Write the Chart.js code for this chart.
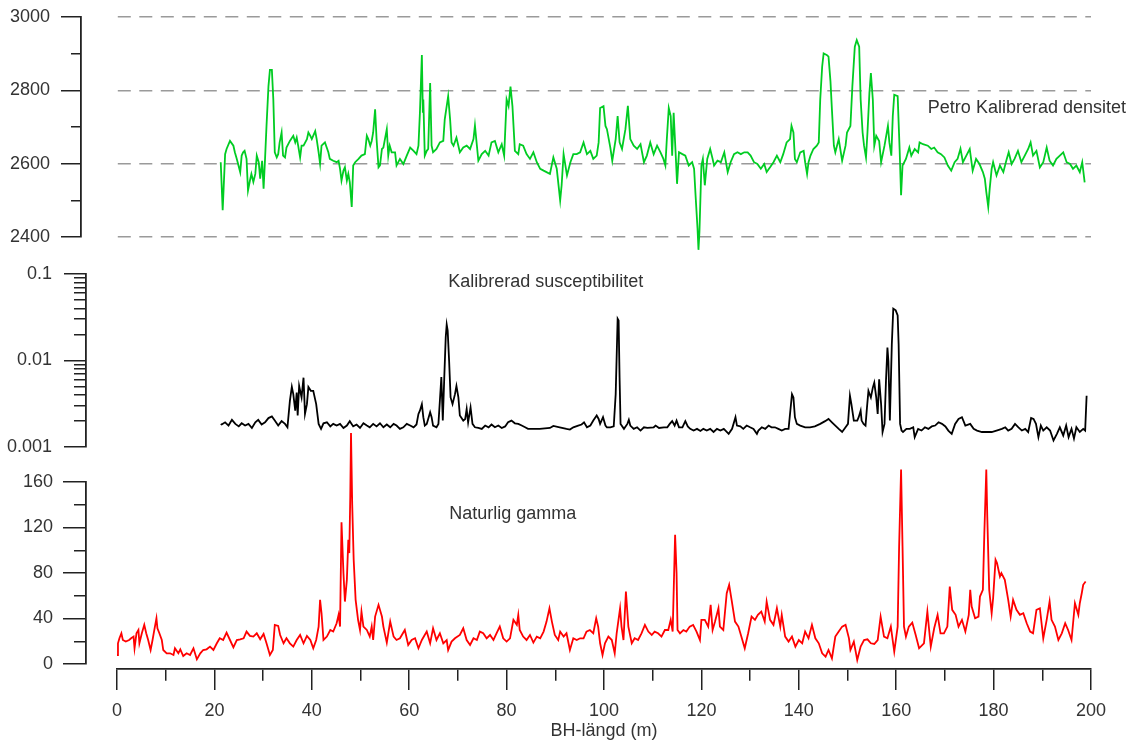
<!DOCTYPE html>
<html>
<head>
<meta charset="utf-8">
<title>BH-längd</title>
<script src="https://cdn.jsdelivr.net/npm/chart.js@4.4.1/dist/chart.umd.min.js"></script>
<style>
body { margin: 0; background: #fff; }
#wrap { position: relative; width: 1133px; height: 747px; overflow: hidden; }
#wrap canvas { position: absolute; left: 0; }
</style>
</head>
<body>
<div id="wrap">
  <canvas id="densChart" width="1133" height="264" style="top:-5px"></canvas>
  <canvas id="suscChart" width="1133" height="219" style="top:251px"></canvas>
  <canvas id="gammaChart" width="1133" height="327" style="top:420px"></canvas>
</div>
<script>
// tick positions
const xTicks = [0,10,20,30,40,50,60,70,80,90,100,110,120,130,140,150,160,170,180,190,200];
const densityTicks = [2400,2500,2600,2700,2800,2900,3000];
const suscTicks = [0.001,0.002,0.003,0.004,0.005,0.006,0.007,0.008,0.009,0.01,0.02,0.03,0.04,0.05,0.06,0.07,0.08,0.09,0.1];
const suscLabels = [0.001,0.01,0.1];
const gammaTicks = [0,20,40,60,80,100,120,140,160];

// Petro Kalibrerad densitet
const densityDepth = [21.3,21.7,22.2,22.5,23.2,23.9,24.2,24.6,25.3,25.6,
25.9,26.2,26.6,26.9,27.3,27.6,28.0,28.4,28.7,29.1,
29.4,29.8,30.1,30.4,30.7,31.1,31.4,31.8,32.1,32.4,
32.8,33.1,33.4,33.8,34.1,34.5,34.8,35.5,36.2,36.6,
36.9,37.2,37.6,37.9,38.3,39.0,39.3,39.7,40.0,40.7,
41.0,41.4,41.7,42.0,42.7,43.4,43.7,44.4,45.1,45.5,
45.8,46.1,46.5,46.8,47.2,47.5,47.8,48.2,48.5,48.9,
49.6,50.2,50.9,51.3,51.6,52.0,52.3,52.6,53.0,53.3,
53.7,54.0,54.4,54.7,55.4,55.7,56.0,56.4,57.1,57.4,
58.1,58.8,59.5,60.2,60.9,61.5,61.9,62.2,62.6,62.8,
62.9,63.2,63.6,63.9,64.3,64.6,64.9,65.6,66.3,67.0,
67.3,68.0,68.4,68.7,69.1,69.7,70.4,71.1,71.8,72.5,
73.2,73.5,73.9,74.2,74.9,75.6,76.3,76.9,77.6,78.3,
79.0,79.5,80.0,80.4,80.8,81.2,81.7,82.4,82.7,83.4,
84.1,84.8,85.5,86.2,86.9,87.6,88.2,88.9,89.6,90.3,
91.0,91.3,91.7,92.4,93.1,93.7,94.4,95.1,95.8,96.5,
97.2,97.8,98.5,98.9,99.2,99.9,100.3,100.6,101.3,101.7,
102.4,102.8,103.2,103.7,104.4,104.9,105.4,106.1,106.8,107.5,
108.2,108.8,109.5,110.2,110.9,111.6,112.2,112.6,112.9,113.3,
113.7,114.0,114.3,114.7,115.0,115.4,116.1,116.7,117.4,118.1,
118.5,118.8,119.2,119.4,119.6,120.0,120.3,120.7,121.2,121.8,
122.3,122.6,123.3,124.0,124.7,125.4,126.0,126.7,127.4,128.1,
128.8,129.5,130.1,130.8,131.5,132.2,132.9,133.4,134.1,134.8,
135.5,136.2,136.8,137.5,138.2,138.5,138.9,139.2,139.6,140.3,
141.0,141.3,141.7,142.0,142.4,143.0,143.7,144.1,144.4,144.8,
145.1,145.8,146.1,146.5,146.8,147.2,147.5,148.2,148.9,149.6,
149.9,150.6,151.0,151.5,151.9,152.4,152.7,153.1,153.4,153.8,
154.1,154.5,154.8,155.2,155.5,155.9,156.5,156.9,157.6,158.3,
158.6,159.0,159.3,159.6,160.3,160.7,161.0,161.3,162.0,162.7,
163.1,163.8,164.5,164.8,165.5,166.5,167.2,167.8,168.5,169.2,
169.9,170.6,171.3,172.0,172.6,173.2,173.7,174.4,175.1,175.7,
176.4,177.1,177.8,178.2,178.5,178.9,179.2,179.6,179.9,180.6,
181.3,182.0,182.6,183.1,183.7,184.3,185.0,185.7,186.4,187.1,
187.6,188.1,188.8,189.5,190.2,190.9,191.5,192.2,192.9,193.6,
194.3,195.0,195.7,196.3,197.0,197.7,198.2,198.7];
const densityValue = [2604,2473,2626,2640,2662,2649,2631,2613,2577,2622,
2631,2635,2613,2527,2554,2572,2550,2572,2622,2604,
2559,2608,2532,2613,2703,2811,2856,2856,2775,2631,
2617,2626,2658,2685,2622,2617,2644,2662,2676,2658,
2671,2649,2617,2649,2649,2667,2685,2676,2667,2689,
2667,2631,2600,2649,2658,2631,2613,2608,2604,2608,
2586,2554,2581,2590,2554,2572,2550,2482,2595,2604,
2613,2622,2626,2676,2667,2649,2662,2685,2748,2667,
2590,2595,2640,2644,2694,2622,2649,2631,2631,2595,
2613,2599,2622,2644,2635,2626,2649,2739,2896,2739,
2775,2622,2635,2640,2820,2649,2631,2640,2658,2662,
2721,2784,2721,2658,2649,2671,2631,2644,2649,2640,
2667,2704,2649,2608,2626,2635,2622,2658,2662,2631,
2653,2622,2775,2757,2810,2757,2635,2626,2653,2649,
2626,2613,2631,2604,2586,2581,2577,2572,2617,2586,
2500,2541,2626,2568,2604,2626,2626,2631,2658,2626,
2635,2613,2622,2658,2752,2757,2703,2694,2644,2608,
2667,2730,2658,2640,2694,2758,2667,2649,2640,2653,
2604,2622,2658,2626,2649,2631,2613,2595,2667,2752,
2730,2622,2739,2631,2545,2631,2626,2622,2595,2604,
2586,2514,2424,2365,2415,2595,2613,2541,2613,2640,
2613,2595,2608,2604,2631,2577,2604,2626,2631,2626,
2631,2631,2622,2604,2599,2586,2599,2577,2590,2604,
2622,2604,2626,2658,2667,2703,2685,2613,2604,2631,
2635,2604,2572,2604,2622,2640,2649,2658,2775,2865,
2901,2896,2892,2825,2748,2649,2631,2667,2608,2649,
2685,2703,2811,2919,2937,2919,2775,2685,2649,2617,
2685,2793,2847,2775,2649,2676,2662,2604,2649,2703,
2658,2622,2730,2788,2784,2640,2514,2595,2613,2644,
2622,2640,2631,2658,2653,2649,2640,2644,2631,2626,
2617,2595,2581,2604,2613,2641,2604,2622,2640,2581,
2613,2599,2577,2559,2523,2482,2532,2586,2604,2568,
2595,2577,2608,2631,2599,2613,2635,2604,2622,2640,
2658,2622,2635,2590,2604,2644,2608,2595,2613,2622,
2631,2604,2599,2586,2595,2577,2604,2549];

// Kalibrerad susceptibilitet
const suscDepth = [21.3,21.5,22.2,22.9,23.6,24.3,25.0,25.6,26.3,27.0,
27.7,28.4,29.0,29.7,30.4,31.1,31.8,32.4,33.1,33.8,
34.5,35.0,35.5,35.9,36.2,36.6,36.9,37.1,37.4,37.9,
38.3,38.6,39.0,39.3,39.8,40.3,40.9,41.4,41.9,42.4,
43.1,43.8,44.4,45.1,45.8,46.5,47.2,47.8,48.5,49.2,
49.9,50.6,51.3,51.9,52.6,53.3,54.0,54.7,55.4,56.1,
56.8,57.4,58.1,58.8,59.5,60.2,60.9,61.5,61.9,62.2,
62.6,62.9,63.2,63.6,63.9,64.3,64.6,64.9,65.6,66.0,
66.3,66.6,66.9,67.2,67.5,67.7,67.9,68.2,68.5,68.9,
69.4,69.7,70.1,70.4,71.1,71.5,71.8,72.1,72.6,73.0,
73.5,74.2,74.9,75.6,76.3,76.9,77.6,78.3,79.0,79.7,
80.3,81.0,81.7,82.4,83.1,83.8,84.4,86.8,88.9,89.6,
90.9,92.3,93.0,93.7,94.7,95.4,95.9,96.5,97.2,97.8,
98.5,98.9,99.2,99.8,100.3,100.6,101.3,102.0,102.4,102.8,
103.0,103.2,103.4,104.1,104.8,105.1,105.4,106.1,106.8,107.5,
108.2,108.9,110.2,110.6,111.3,112.3,113.0,113.5,114.0,114.5,
114.9,115.4,116.1,116.7,117.2,117.7,118.4,119.1,119.8,120.4,
121.1,121.8,122.5,123.2,123.9,124.6,125.6,126.3,127.0,127.3,
128.0,128.6,129.3,130.0,130.7,131.4,131.7,132.4,133.1,133.8,
134.4,135.1,135.8,136.5,137.2,137.9,138.2,138.6,138.9,139.2,
139.6,140.3,141.3,142.3,143.3,144.4,145.4,146.1,146.8,147.5,
148.2,148.9,149.6,150.1,150.5,150.8,151.3,152.0,152.3,152.7,
152.9,153.3,153.7,154.0,154.3,154.8,155.2,155.5,155.9,156.2,
156.5,156.9,157.2,157.6,157.9,158.2,158.4,158.7,159.1,159.4,
159.9,160.3,160.5,160.8,161.1,161.4,162.1,162.8,163.5,163.8,
164.5,165.2,165.9,166.6,167.3,168.0,168.7,169.4,170.1,170.7,
171.4,172.1,172.8,173.5,174.2,175.2,175.9,176.6,177.6,178.6,
179.6,180.6,181.7,182.4,183.0,183.7,184.4,185.1,185.8,186.5,
187.1,187.7,188.2,188.7,189.2,189.7,190.2,190.9,191.6,192.3,
193.0,193.6,194.3,194.9,195.4,196.0,196.5,197.0,197.7,198.4,
198.8,199.1];
const suscValue = [0.00185,0.00182,0.00193,0.00177,0.00206,0.00185,0.00173,0.00188,0.00177,0.00185,
0.00166,0.00193,0.00206,0.00182,0.00193,0.00216,0.00226,0.00202,0.00177,0.00199,
0.00185,0.00169,0.00342,0.00495,0.00408,0.00263,0.00426,0.00231,0.00508,0.00374,
0.00633,0.00241,0.00313,0.00495,0.00446,0.00446,0.00313,0.00185,0.00162,0.00188,
0.00193,0.00173,0.00185,0.00177,0.00185,0.00166,0.00177,0.00199,0.00173,0.00182,
0.00166,0.00188,0.00177,0.00169,0.00185,0.00173,0.00188,0.00169,0.00182,0.00169,
0.00185,0.00177,0.00162,0.00169,0.00185,0.00177,0.00169,0.00182,0.00241,0.00263,
0.00313,0.00221,0.00177,0.00185,0.00211,0.00252,0.00221,0.00177,0.00169,0.00185,
0.00342,0.00644,0.00202,0.00633,0.0185,0.0260,0.0221,0.00982,0.00374,0.00313,
0.00408,0.00508,0.00374,0.00231,0.00202,0.00211,0.00275,0.00193,0.00287,0.00185,
0.00169,0.00166,0.00162,0.00177,0.00169,0.00182,0.00169,0.00177,0.00166,0.00173,
0.00193,0.00202,0.00188,0.00185,0.00177,0.00169,0.00162,0.00162,0.00166,0.00175,
0.00169,0.00162,0.00159,0.00169,0.00177,0.00182,0.00193,0.00169,0.00177,0.00202,
0.00231,0.00211,0.00185,0.00221,0.00177,0.00169,0.00169,0.00173,0.00408,0.0304,
0.0290,0.00633,0.00185,0.00162,0.00185,0.00206,0.00177,0.00162,0.00169,0.00155,
0.00169,0.00166,0.00169,0.00177,0.00166,0.00169,0.00169,0.00185,0.00199,0.00177,
0.00202,0.00169,0.00169,0.00199,0.00173,0.00162,0.00155,0.00162,0.00153,0.00162,
0.00155,0.00162,0.00149,0.00162,0.00155,0.00162,0.00142,0.00162,0.00221,0.00177,
0.00173,0.00162,0.00177,0.00169,0.00162,0.00142,0.00155,0.00169,0.00162,0.00177,
0.00169,0.00169,0.00162,0.00155,0.00162,0.00162,0.00241,0.00408,0.00374,0.00221,
0.00185,0.00177,0.00169,0.00169,0.00173,0.00185,0.00199,0.00211,0.00193,0.00177,
0.00162,0.00149,0.00169,0.00185,0.00391,0.00313,0.00202,0.00202,0.00221,0.00263,
0.00202,0.00185,0.00177,0.00287,0.00446,0.00374,0.00486,0.00555,0.00374,0.00241,
0.00606,0.00313,0.00149,0.00185,0.00580,0.0141,0.00982,0.00202,0.0154,0.0398,
0.0380,0.0332,0.0154,0.00185,0.00155,0.00149,0.00162,0.00162,0.00169,0.00130,
0.00162,0.00155,0.00169,0.00162,0.00173,0.00177,0.00193,0.00185,0.00173,0.00155,
0.00142,0.00185,0.00211,0.00221,0.00177,0.00185,0.00162,0.00155,0.00149,0.00149,
0.00149,0.00155,0.00162,0.00169,0.00155,0.00162,0.00185,0.00169,0.00155,0.00162,
0.00149,0.00216,0.00211,0.00185,0.00130,0.00177,0.00155,0.00169,0.00155,0.00119,
0.00142,0.00169,0.00136,0.00177,0.00130,0.00162,0.00125,0.00169,0.00149,0.00162,
0.00155,0.00391];

// Naturlig gamma
const gammaDepth = [0.0,0.2,0.5,0.9,1.2,1.8,2.5,2.9,3.4,3.6,
4.0,4.4,4.6,5.1,5.6,6.0,6.4,6.9,7.3,7.6,
8.1,8.3,8.7,9.2,9.5,10.2,10.9,11.6,11.9,12.6,
13.0,13.6,14.3,15.0,15.7,16.4,17.1,17.7,18.4,19.1,
19.8,20.5,21.1,21.8,22.5,23.2,23.9,24.6,25.3,26.0,
26.6,27.3,28.0,28.7,29.4,30.1,30.7,31.4,32.0,32.4,
33.1,33.5,34.2,34.8,35.5,36.2,36.9,37.6,38.3,39.0,
39.7,40.3,40.9,41.4,41.7,42.0,42.4,43.1,43.8,44.4,
45.1,45.5,45.8,46.1,46.5,46.8,47.2,47.5,47.7,47.9,
48.05,48.3,48.6,49.0,49.5,49.9,50.2,50.6,51.3,51.9,
52.3,52.6,53.0,53.7,54.4,54.7,55.4,56.1,56.8,57.4,
58.1,59.1,59.8,60.5,61.2,61.9,62.6,63.6,64.3,64.9,
65.6,66.3,67.0,67.7,68.0,68.7,69.4,70.4,71.1,71.8,
72.5,73.2,73.9,74.5,75.2,75.9,76.6,77.3,78.0,78.6,
79.3,80.0,80.7,81.4,82.1,82.4,82.7,83.4,84.1,84.8,
85.5,86.2,86.9,87.6,88.2,88.8,89.3,89.9,90.6,91.0,
91.7,92.3,93.0,93.7,94.4,95.1,95.8,96.4,97.1,97.8,
98.4,98.8,99.2,99.7,100.2,100.9,101.6,102.2,102.6,103.3,
103.6,104.0,104.5,105.0,105.7,106.3,107.0,107.7,108.4,109.1,
109.8,110.4,111.1,111.8,112.5,113.2,113.7,114.1,114.6,114.9,
115.1,115.6,116.3,116.9,117.6,118.3,119.0,119.7,120.0,120.7,
121.4,121.9,122.3,122.8,123.5,123.8,124.5,125.2,125.7,126.2,
126.9,127.6,128.2,128.9,129.6,130.3,131.0,131.6,132.3,133.0,
133.4,134.1,134.8,135.5,136.2,136.5,137.2,137.9,138.6,139.3,
140.0,140.7,141.3,142.0,142.7,143.4,144.1,144.8,145.5,146.1,
146.8,147.5,148.2,148.9,149.6,150.3,150.6,151.3,152.0,152.7,
153.4,154.1,154.8,155.5,156.2,156.8,157.5,158.2,158.9,159.6,
160.3,160.6,161.0,161.3,161.6,162.0,162.6,163.3,164.0,164.7,
165.7,166.4,167.1,167.8,168.5,169.1,169.8,170.5,171.0,171.5,
172.2,172.8,173.5,174.2,174.9,175.2,175.5,176.2,176.9,177.2,
177.8,178.1,178.5,178.7,179.1,179.6,179.9,180.4,180.7,181.3,
181.6,182.3,183.0,183.5,184.0,184.7,185.4,186.1,186.8,187.5,
188.1,188.8,189.5,190.2,190.9,191.5,191.9,192.6,193.3,194.0,
194.7,195.3,196.0,196.7,197.4,197.7,198.1,198.4,198.9];
const gammaValue = [7.9,18.2,22.6,27.0,21.1,19.7,21.1,22.6,24.1,13.8,
27.0,29.9,18.2,27.0,34.4,27.0,21.1,12.3,21.1,28.5,
40.2,31.4,27.0,21.1,12.3,9.4,9.4,7.9,13.8,9.4,
12.9,7.0,9.4,7.9,13.8,4.1,9.4,12.3,12.9,15.3,
12.3,18.2,22.6,21.1,27.6,21.1,14.7,21.1,21.7,22.6,
28.5,24.7,24.1,27.0,21.7,26.4,18.2,7.9,12.3,34.4,
33.5,25.5,18.2,22.6,18.2,15.3,21.1,25.5,18.2,24.7,
21.1,13.8,21.1,32.9,56.4,44.6,21.1,24.1,29.9,28.5,
35.8,43.2,32.9,124.5,79.9,54.9,74.0,109.2,97.5,147.4,
203,140,91.6,56.4,38.8,29.9,46.1,32.9,29.9,24.1,
32.9,21.1,41.7,52.0,41.7,32.9,18.8,37.3,24.1,21.1,
22.6,29.9,16.7,21.1,22.6,13.8,21.1,28.5,18.2,31.4,
21.1,27.0,18.2,21.1,12.3,19.7,22.6,25.5,31.4,21.1,
16.7,22.6,21.1,28.5,27.0,22.6,25.5,21.1,27.6,32.9,
22.6,19.7,22.6,38.8,34.4,43.2,29.9,24.1,21.1,25.5,
18.8,24.1,22.6,28.5,37.3,49.0,37.3,25.5,21.1,28.5,
24.1,27.0,12.3,22.6,21.1,22.6,22.6,28.5,29.9,27.0,
40.2,32.9,18.2,7.9,18.2,24.1,21.1,9.4,27.0,49.0,
32.9,21.1,63.7,32.9,18.2,22.6,21.1,27.0,34.4,28.5,
25.5,28.5,27.0,24.1,29.9,29.9,38.8,28.5,113.6,79.9,
29.9,27.0,29.9,28.5,32.9,34.4,28.5,21.1,38.8,38.8,
32.9,52.0,29.9,37.3,49.0,32.9,29.9,62.2,69.6,56.4,
37.3,32.9,24.1,13.8,27.0,41.7,38.8,43.2,46.1,37.3,
54.9,38.8,34.4,49.0,32.9,43.2,24.1,19.7,24.1,15.3,
21.1,18.2,28.5,22.6,34.4,22.6,18.2,9.4,6.5,12.3,
5.0,24.1,28.5,32.9,34.4,22.6,12.3,19.7,3.5,15.3,
21.1,21.7,18.2,17.6,21.1,41.7,24.1,22.6,32.9,10.9,
32.9,103.3,170.9,103.3,32.9,24.1,32.9,36.4,25.5,13.8,
18.2,46.1,15.3,31.4,43.2,27.0,27.0,32.9,68.1,47.6,
43.2,32.9,38.8,28.5,43.2,65.2,50.5,40.2,41.7,59.3,
65.2,115.1,170.9,129.8,65.2,44.6,57.8,91.6,88.7,76.9,
79.9,74.0,56.4,41.7,56.4,47.6,43.2,44.6,35.8,28.5,
27.0,47.6,49.0,22.6,38.8,54.9,38.8,32.9,21.1,27.0,
35.8,29.9,21.1,53.4,43.2,53.4,62.2,69.6,72.5];

Chart.defaults.font.family = '"Liberation Sans", Arial, sans-serif';
Chart.defaults.font.size = 18;
Chart.defaults.color = '#333';
Chart.defaults.animation = false;

const AXIS_COLOR = '#222';

function toPoints(xs, ys) {
    return xs.map((x, i) => ({x: x, y: ys[i]}));
}

// text inside a panel, placed in data coordinates
const panelLabel = {
    id: 'panelLabel',
    afterDatasetsDraw(chart, args, opts) {
        const ctx = chart.ctx;
        ctx.save();
        ctx.font = '18px "Liberation Sans", Arial, sans-serif';
        ctx.fillStyle = '#333';
        ctx.textAlign = 'left';
        ctx.textBaseline = 'middle';
        ctx.fillText(opts.text, chart.scales.x.getPixelForValue(opts.x), chart.scales.y.getPixelForValue(opts.y));
        ctx.restore();
    }
};

// empty axis that pushes the real y axis away from the plot
function spacerY(width) {
    return {
        type: 'linear', position: 'left', weight: 0,
        grid: {display: false}, border: {display: false}, ticks: {display: false},
        afterFit: s => { s.width = width; }
    };
}

function hiddenX() {
    return {type: 'linear', min: 0, max: 200, display: false};
}

function lineDataset(xs, ys, color) {
    return {
        data: toPoints(xs, ys),
        xAxisID: 'x',
        yAxisID: 'y',
        borderColor: color,
        borderWidth: 1.8,
        pointRadius: 0,
        tension: 0,
        clip: false
    };
}

function baseOptions(padding, label) {
    return {
        responsive: false,
        layout: {padding: padding},
        plugins: {legend: {display: false}, tooltip: {enabled: false}, panelLabel: label}
    };
}

// top panel: density
let densOptions = baseOptions({top: 22, bottom: 22, left: 0, right: 42},
    {text: 'Petro Kalibrerad densitet', x: 166.5, y: 2752});
densOptions.scales = {
    x: hiddenX(),
    y: {
        type: 'linear', position: 'left', weight: 1, min: 2400, max: 3000,
        afterBuildTicks: s => { s.ticks = densityTicks.map(v => ({value: v})); },
        afterFit: s => { s.width = 81; },
        ticks: {autoSkip: false, padding: 11, callback: v => v % 200 === 0 ? String(v) : ''},
        grid: {
            drawOnChartArea: true, lineWidth: 1.5, tickLength: 20, tickColor: AXIS_COLOR,
            color: c => (c.tick && c.tick.value % 200 === 0) ? '#9a9a9a' : 'rgba(0,0,0,0)',
            tickBorderDash: c => (c.tick && c.tick.value % 200 !== 0) ? [0, 10, 10, 100] : []
        },
        border: {display: true, color: AXIS_COLOR, width: 1.8, dash: [13, 8.5]}
    },
    ys: spacerY(36)
};
new Chart(document.getElementById('densChart'), {
    type: 'line',
    data: {datasets: [lineDataset(densityDepth, densityValue, '#00cc22')]},
    options: densOptions,
    plugins: [panelLabel]
});

// middle panel: susceptibility (log)
let suscOptions = baseOptions({top: 23, bottom: 23, left: 0, right: 42},
    {text: 'Kalibrerad susceptibilitet', x: 68.0, y: 0.081});
suscOptions.scales = {
    x: hiddenX(),
    y: {
        type: 'logarithmic', position: 'left', weight: 1, min: 0.001, max: 0.1,
        afterBuildTicks: s => { s.ticks = suscTicks.map(v => ({value: v})); },
        afterFit: s => { s.width = 86; },
        ticks: {autoSkip: false, padding: 12, callback: v => suscLabels.includes(v) ? String(v) : ''},
        grid: {
            drawOnChartArea: false, lineWidth: 1.5, tickLength: 22, tickColor: AXIS_COLOR,
            tickBorderDash: c => (c.tick && !suscLabels.includes(c.tick.value)) ? [0, 10, 12, 100] : []
        },
        border: {display: true, color: AXIS_COLOR, width: 1.8}
    },
    ys: spacerY(31)
};
new Chart(document.getElementById('suscChart'), {
    type: 'line',
    data: {datasets: [lineDataset(suscDepth, suscValue, '#000000')]},
    options: suscOptions,
    plugins: [panelLabel]
});

// bottom panel: natural gamma + shared depth axis
let gammaOptions = baseOptions({top: 62, bottom: 0, left: 0, right: 42},
    {text: 'Naturlig gamma', x: 68.2, y: 132});
gammaOptions.scales = {
    x: {
        type: 'linear', position: 'bottom', weight: 1, min: 0, max: 200,
        afterBuildTicks: s => { s.ticks = xTicks.map(v => ({value: v})); },
        afterFit: s => { s.height = 78; },
        ticks: {autoSkip: false, maxRotation: 0, padding: 10, callback: v => v % 20 === 0 ? String(v) : ''},
        grid: {
            drawOnChartArea: false, lineWidth: 1.5, tickLength: 21, tickColor: AXIS_COLOR,
            tickBorderDash: c => (c.tick && c.tick.value % 20 !== 0) ? [11, 100] : []
        },
        border: {display: true, color: AXIS_COLOR, width: 1.8},
        title: {display: true, text: 'BH-längd (m)', color: '#333', font: {size: 18}, padding: {top: 0, bottom: 5}}
    },
    xs: {
        type: 'linear', position: 'bottom', weight: 0,
        grid: {display: false}, border: {display: false}, ticks: {display: false},
        afterFit: s => { s.height = 5; }
    },
    y: {
        type: 'linear', position: 'left', weight: 1, min: 0, max: 160,
        afterBuildTicks: s => { s.ticks = gammaTicks.map(v => ({value: v})); },
        afterFit: s => { s.width = 86; },
        ticks: {autoSkip: false, padding: 10, callback: v => v % 40 === 0 ? String(v) : ''},
        grid: {
            drawOnChartArea: false, lineWidth: 1.5, tickLength: 23, tickColor: AXIS_COLOR,
            tickBorderDash: c => (c.tick && c.tick.value % 40 !== 0) ? [0, 11, 12, 100] : []
        },
        border: {display: true, color: AXIS_COLOR, width: 1.8}
    },
    ys: spacerY(31)
};
new Chart(document.getElementById('gammaChart'), {
    type: 'line',
    data: {datasets: [lineDataset(gammaDepth, gammaValue, '#ff0000')]},
    options: gammaOptions,
    plugins: [panelLabel]
});
</script>
</body>
</html>
